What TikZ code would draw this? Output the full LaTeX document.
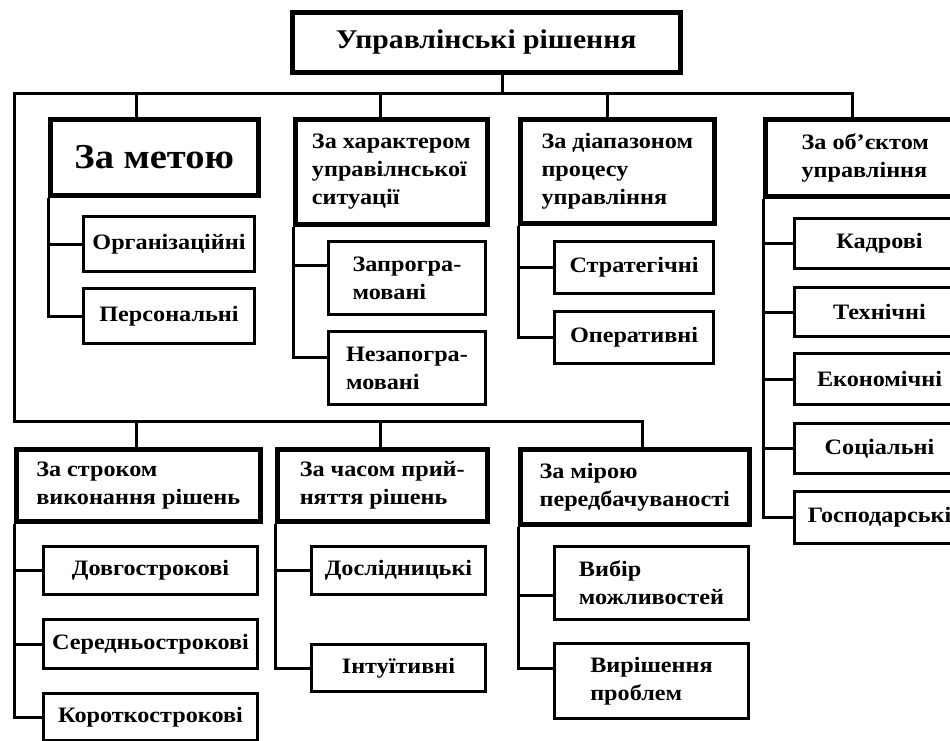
\documentclass[tikz,border=0pt]{standalone}
\usepackage{fontspec}
\setmainfont{Liberation Serif}[FakeStretch=1.1]

\begin{document}
\begin{tikzpicture}[x=1pt, y=-1pt,
    box/.style={draw, anchor=north west, inner sep=0pt, align=left,
      font=\bfseries\fontsize{22}{28}\selectfont},
    hd/.style={box, line width=4.5pt},
    lf/.style={box, line width=3pt},
    ln/.style={line width=3pt}]
    \useasboundingbox (0,0) rectangle (950,740);
    \clip (0,0) rectangle (950,740);

    \node[hd, minimum width=388, minimum height=60,
      font=\bfseries\fontsize{27}{30}\selectfont] (A) at (290,10) {Управлінські рішення};

    \node[hd, minimum width=208, minimum height=76,
      font=\bfseries\fontsize{35}{40}\selectfont] (B) at (48,117) {За метою};
    \node[hd, minimum width=192, minimum height=105] (C) at (293,117) {За характером\\управілнської\\ситуації};
    \node[hd, minimum width=194, minimum height=104] (D) at (518,117) {За діапазоном\\процесу\\управління};
    \node[hd, minimum width=200, minimum height=77] (E) at (763,117) {За об’єктом\\управління};

    \node[hd, minimum width=244, minimum height=72] (F) at (14,447) {За строком\\виконання рішень};
    \node[hd, minimum width=210, minimum height=72] (G) at (275,447) {За часом прий-\\няття рішень};
    \node[hd, minimum width=229, minimum height=75] (H) at (518,447) {За мірою\\передбачуваності};

    \node[lf, minimum width=171, minimum height=55] (B1) at (82,215) {Організаційні};
    \node[lf, minimum width=171, minimum height=55] (B2) at (82,287) {Персональні};
    \node[lf, minimum width=157, minimum height=73] (C1) at (327,240) {Запрогра-\\мовані};
    \node[lf, minimum width=157, minimum height=73] (C2) at (327,330) {Незапогра-\\мовані};
    \node[lf, minimum width=159, minimum height=52] (D1) at (553,240) {Стратегічні};
    \node[lf, minimum width=159, minimum height=52] (D2) at (553,310) {Оперативні};
    \node[lf, minimum width=170, minimum height=50] (E1) at (793,217) {Кадрові};
    \node[lf, minimum width=170, minimum height=49] (E2) at (793,286) {Технічні};
    \node[lf, minimum width=170, minimum height=51] (E3) at (793,352) {Економічні};
    \node[lf, minimum width=170, minimum height=50] (E4) at (793,422) {Соціальні};
    \node[lf, minimum width=170, minimum height=52] (E5) at (793,490) {Господарські};
    \node[lf, minimum width=214, minimum height=48] (F1) at (42,545) {Довгострокові};
    \node[lf, minimum width=214, minimum height=49] (F2) at (42,618) {Середньострокові};
    \node[lf, minimum width=214, minimum height=47] (F3) at (42,692) {Короткострокові};
    \node[lf, minimum width=174, minimum height=48] (G1) at (310,545) {Дослідницькі};
    \node[lf, minimum width=174, minimum height=47] (G2) at (310,643) {Інтуїтивні};
    \node[lf, minimum width=194, minimum height=73] (H1) at (553,545) {Вибір\\можливостей};
    \node[lf, minimum width=194, minimum height=75] (H2) at (553,642) {Вирішення\\проблем};

    \coordinate (T) at (502,93);
    \coordinate (L1) at (14,93);
    \coordinate (R1) at (852,93);
    \coordinate (L2) at (14,421);
    \coordinate (R2) at (642,421);
    \coordinate (b) at (136,93);
    \coordinate (c) at (380,93);
    \coordinate (d) at (607,93);
    \coordinate (f) at (136,421);
    \coordinate (g) at (380,421);
    \coordinate (c1) at ([yshift=13pt]C1.west);
    \coordinate (c2) at ([yshift=11pt]C2.west);
    \coordinate (h1) at ([yshift=-12pt]H1.west);
    \coordinate (h2) at ([yshift=13pt]H2.west);

    \draw[ln] (A.south -| T) -- (T);
    \draw[ln] (R1 |- E.north) -- (R1) -- (L1) -- (L2) -- (R2) -- (R2 |- H.north);
    \draw[ln] (b) -- (b |- B.north);
    \draw[ln] (c) -- (c |- C.north);
    \draw[ln] (d) -- (d |- D.north);
    \draw[ln] (f) -- (f |- F.north);
    \draw[ln] (g) -- (g |- G.north);

    \draw[ln] (B.south west) |- (B2.west);
    \draw[ln] (B.south west |- B1.west) -- (B1.west);
    \draw[ln] (C.south west) |- (c2);
    \draw[ln] (C.south west |- c1) -- (c1);
    \draw[ln] (D.south west) |- (D2.west);
    \draw[ln] (D.south west |- D1.west) -- (D1.west);
    \draw[ln] (E.south west) |- (E5.west);
    \foreach \k in {1,...,4}
      \draw[ln] (E.south west |- E\k.west) -- (E\k.west);
    \draw[ln] (F.south west) |- (F3.west);
    \draw[ln] (F.south west |- F1.west) -- (F1.west);
    \draw[ln] (F.south west |- F2.west) -- (F2.west);
    \draw[ln] (G.south west) |- (G2.west);
    \draw[ln] (G.south west |- G1.west) -- (G1.west);
    \draw[ln] (H.south west) |- (h2);
    \draw[ln] (H.south west |- h1) -- (h1);
\end{tikzpicture}
\end{document}
